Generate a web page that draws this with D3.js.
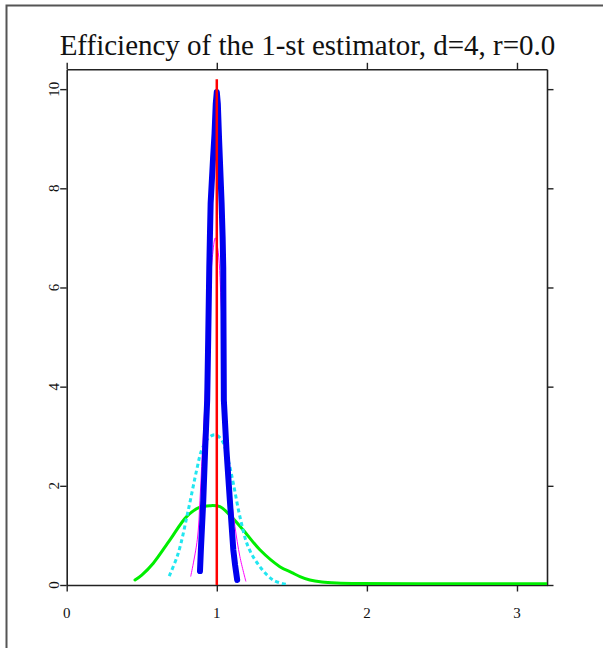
<!DOCTYPE html>
<html>
<head>
<meta charset="utf-8">
<script src="https://cdn.jsdelivr.net/npm/d3@7/dist/d3.min.js"></script>
<style>
  html, body { margin: 0; padding: 0; background: #ffffff; }
  svg { display: block; }
  .lbl { font-family: 'Liberation Serif', 'Times New Roman', serif; font-size: 15px; fill: #111; }
</style>
</head>
<body>
<div id="chart"></div>
<script>
// ---- data ----
const titleText = "Efficiency of the 1-st estimator, d=4, r=0.0";
const xTicks = [0, 1, 2, 3];
const yTicks = [0, 2, 4, 6, 8, 10];
const xDomain = [0, 3.2];
const yDomain = [0, 10.4];

// true value (vertical reference line)
const trueX = [1, 1];
const trueY = [0, 10.2];

// green density
const greenX = [0.455, 0.5, 0.577, 0.688, 0.799, 0.888, 0.954, 1.021, 1.087, 1.176, 1.287, 1.42, 1.5, 1.554, 1.62, 1.7, 1.8, 1.95, 2.5, 3.2];
const greenY = [0.10, 0.20, 0.44, 0.91, 1.38, 1.57, 1.60, 1.58, 1.41, 1.11, 0.71, 0.37, 0.25, 0.17, 0.10, 0.06, 0.04, 0.03, 0.025, 0.025];

// cyan dashed density
const cyanX = [0.683, 0.743, 0.810, 0.866, 0.899, 0.943, 0.988, 1.032, 1.076, 1.11, 1.154, 1.209, 1.287, 1.376, 1.465];
const cyanY = [0.18, 0.64, 1.51, 2.32, 2.72, 2.96, 3.03, 2.93, 2.52, 2.05, 1.38, 0.77, 0.37, 0.10, 0.01];

// magenta thin density
const magX = [0.826, 0.870, 0.888, 0.899, 0.910, 0.93, 0.95, 0.97, 0.99, 1.01, 1.03, 1.05, 1.07, 1.099, 1.121, 1.154, 1.194];
const magY = [0.17, 0.91, 1.71, 2.39, 2.99, 4.3, 5.6, 6.6, 7.0, 6.7, 5.6, 4.2, 2.9, 1.71, 1.18, 0.57, 0.07];

// blue thick density
const blueX = [0.888, 0.894, 0.910, 0.922, 0.936, 0.943, 0.950, 0.954, 0.959, 0.975, 0.985, 0.993, 1.0, 1.007, 1.015, 1.032, 1.039, 1.043, 1.045, 1.047, 1.065, 1.087, 1.11, 1.122, 1.136];
const blueY = [0.28, 0.71, 1.71, 2.7, 3.73, 5.0, 6.4, 7.0, 7.7, 8.6, 9.1, 9.7, 9.94, 9.7, 9.0, 7.7, 7.0, 6.4, 5.0, 3.73, 2.7, 1.71, 0.71, 0.4, 0.10];

// ---- layout ----
const W = 603, H = 648;
const pLeft = 66.7, pRight = 547, pTop = 69.3, pBottom = 585;

const svg = d3.select("#chart").append("svg")
  .attr("width", W).attr("height", H);

// outer frame
svg.append("rect")
  .attr("x", 6.5).attr("y", 5.5)
  .attr("width", 610).attr("height", 660)
  .attr("fill", "none").attr("stroke", "#555").attr("stroke-width", 2);

const x = d3.scaleLinear().domain(xDomain).range([pLeft, pRight]);
const y = d3.scaleLinear().domain(yDomain).range([pBottom, pTop]);

svg.append("defs").append("clipPath").attr("id", "clip")
  .append("rect").attr("x", pLeft).attr("y", pTop - 5)
  .attr("width", pRight - pLeft).attr("height", pBottom - pTop + 5);

// title
svg.append("text")
  .attr("x", 307.5).attr("y", 55)
  .attr("text-anchor", "middle")
  .style("font-family", "'Liberation Serif', 'Times New Roman', serif")
  .style("font-size", "29px")
  .attr("fill", "#111")
  .text(titleText);

// axes
const tickLen = 6.5;

const gBottom = svg.append("g").attr("transform", `translate(0,${pBottom})`)
  .call(d3.axisBottom(x).tickValues(xTicks).tickSize(tickLen).tickSizeOuter(0).tickFormat(""));
const gTop = svg.append("g").attr("transform", `translate(0,${pTop})`)
  .call(d3.axisTop(x).tickValues(xTicks).tickSize(tickLen).tickSizeOuter(0).tickFormat(""));
const gLeft = svg.append("g").attr("transform", `translate(${pLeft},0)`)
  .call(d3.axisLeft(y).tickValues(yTicks).tickSize(tickLen).tickSizeOuter(0).tickFormat(""));
const gRight = svg.append("g").attr("transform", `translate(${pRight},0)`)
  .call(d3.axisRight(y).tickValues(yTicks).tickSize(tickLen).tickSizeOuter(0).tickFormat(""));

[gBottom, gTop, gLeft, gRight].forEach(g => {
  g.select(".domain").attr("stroke", "#222").attr("stroke-width", 1.6);
  g.selectAll(".tick line").attr("stroke", "#222").attr("stroke-width", 1.4);
});

// x labels
svg.append("g").selectAll("text").data(xTicks).join("text")
  .attr("class", "lbl")
  .attr("x", d => x(d)).attr("y", 618)
  .attr("text-anchor", "middle")
  .text(d => d);

// y labels rotated
svg.append("g").selectAll("text").data(yTicks).join("text")
  .attr("class", "lbl")
  .attr("transform", d => `translate(${pLeft - 8.2},${y(d)}) rotate(-90)`)
  .attr("text-anchor", "middle")
  .text(d => d);

// curves
const plot = svg.append("g").attr("clip-path", "url(#clip)");
const zip = (xs, ys) => xs.map((v, i) => [v, ys[i]]);
const smooth = d3.line().x(d => x(d[0])).y(d => y(d[1])).curve(d3.curveCatmullRom);
const straight = d3.line().x(d => x(d[0])).y(d => y(d[1]));

plot.append("path").datum(zip(greenX, greenY)).attr("d", smooth)
  .attr("fill", "none").attr("stroke", "#00ee00").attr("stroke-width", 3)
  .attr("stroke-linejoin", "round").attr("stroke-linecap", "round");

plot.append("path").datum(zip(cyanX, cyanY)).attr("d", smooth)
  .attr("fill", "none").attr("stroke", "#22e6f0").attr("stroke-width", 3)
  .attr("stroke-dasharray", "4,3");

plot.append("path").datum(zip(magX, magY)).attr("d", smooth)
  .attr("fill", "none").attr("stroke", "#ff00ff").attr("stroke-width", 1);

plot.append("path").datum(zip(blueX, blueY)).attr("d", straight)
  .attr("fill", "none").attr("stroke", "#0000ee").attr("stroke-width", 6)
  .attr("stroke-linejoin", "round").attr("stroke-linecap", "round");

plot.append("path").datum(zip(trueX, trueY)).attr("d", straight)
  .attr("fill", "none").attr("stroke", "#ff0000").attr("stroke-width", 2.5);
</script>
</body>
</html>
